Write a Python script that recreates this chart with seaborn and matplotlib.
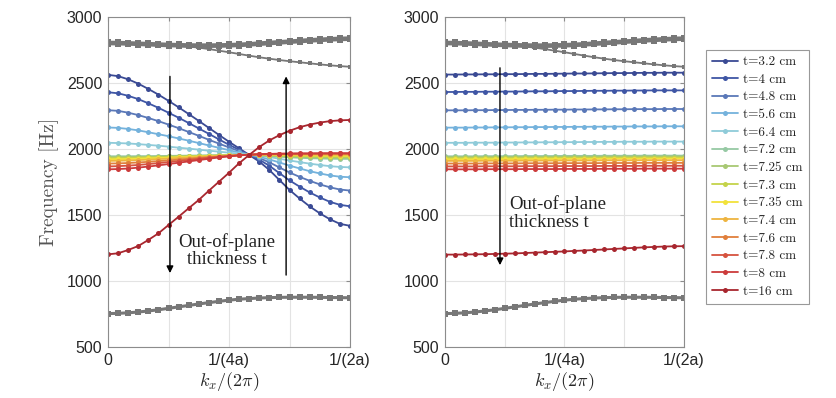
import numpy as np
import pandas as pd
import matplotlib
matplotlib.use('Agg')
import matplotlib.pyplot as plt
from matplotlib.lines import Line2D
import seaborn as sns

# wave number samples, 0 .. 1/(2a)
k = np.linspace(0, 0.5, 25)

labels = ['t=3.2 cm', 't=4 cm', 't=4.8 cm', 't=5.6 cm', 't=6.4 cm', 't=7.2 cm', 't=7.25 cm',
          't=7.3 cm', 't=7.35 cm', 't=7.4 cm', 't=7.6 cm', 't=7.8 cm', 't=8 cm', 't=16 cm']
colors = ['#3a4a94', '#3f56a5', '#5a78b8', '#74b2dc', '#8fcbd9', '#96c9a4', '#a8c873',
          '#c4d34a', '#f2e23a', '#eeb440', '#e07f3c', '#d6533f', '#cc3b3b', '#a8262e']

# left panel
left_t32 = [2562, 2552, 2528, 2495, 2455, 2412, 2365, 2316, 2265, 2213, 2160, 2107, 2055, 2005, 1955, 1905, 1841, 1765, 1690, 1625, 1565, 1513, 1468, 1433, 1418]
left_t40 = [2430, 2422, 2403, 2378, 2346, 2312, 2275, 2237, 2197, 2156, 2115, 2073, 2032, 1994, 1956, 1919, 1873, 1817, 1762, 1715, 1671, 1633, 1600, 1577, 1566]
left_t48 = [2294, 2289, 2275, 2257, 2235, 2211, 2185, 2158, 2129, 2100, 2070, 2041, 2012, 1984, 1956, 1931, 1899, 1860, 1822, 1789, 1759, 1732, 1710, 1693, 1685]
left_t56 = [2163, 2160, 2152, 2141, 2127, 2112, 2097, 2080, 2063, 2045, 2027, 2009, 1991, 1974, 1957, 1941, 1921, 1898, 1874, 1853, 1832, 1815, 1800, 1790, 1786]
left_t64 = [2047, 2045, 2042, 2037, 2031, 2025, 2018, 2010, 2003, 1995, 1987, 1980, 1972, 1965, 1958, 1949, 1939, 1926, 1913, 1901, 1889, 1879, 1870, 1864, 1861]
left_t72 = [1945, 1945, 1945, 1946, 1946, 1947, 1948, 1949, 1950, 1951, 1952, 1953, 1954, 1955, 1955, 1951, 1946, 1941, 1937, 1933, 1930, 1928, 1926, 1925, 1925]
left_t725 = [1938, 1938, 1939, 1940, 1941, 1942, 1944, 1945, 1947, 1948, 1950, 1951, 1953, 1954, 1955, 1953, 1950, 1946, 1943, 1940, 1938, 1936, 1935, 1934, 1934]
left_t73 = [1930, 1931, 1932, 1934, 1936, 1938, 1940, 1942, 1944, 1946, 1948, 1950, 1952, 1954, 1956, 1955, 1953, 1951, 1949, 1947, 1945, 1943, 1942, 1941, 1941]
left_t735 = [1922, 1923, 1924, 1926, 1929, 1931, 1934, 1937, 1940, 1943, 1946, 1949, 1951, 1954, 1957, 1956, 1955, 1954, 1953, 1952, 1951, 1950, 1949, 1949, 1948]
left_t74 = [1910, 1911, 1913, 1916, 1919, 1923, 1927, 1931, 1935, 1939, 1943, 1947, 1950, 1954, 1957, 1958, 1958, 1958, 1958, 1957, 1957, 1957, 1956, 1956, 1956]
left_t76 = [1890, 1891, 1894, 1898, 1903, 1908, 1914, 1920, 1926, 1932, 1938, 1943, 1948, 1953, 1957, 1959, 1960, 1961, 1962, 1962, 1963, 1963, 1963, 1963, 1963]
left_t78 = [1868, 1870, 1874, 1879, 1886, 1893, 1901, 1909, 1917, 1925, 1933, 1941, 1947, 1953, 1957, 1960, 1962, 1963, 1964, 1965, 1965, 1965, 1966, 1966, 1966]
left_t80 = [1846, 1848, 1852, 1859, 1867, 1876, 1886, 1896, 1906, 1916, 1926, 1936, 1944, 1951, 1957, 1961, 1963, 1965, 1966, 1967, 1967, 1968, 1968, 1968, 1968]
left_t16 = [1202, 1210, 1235, 1265, 1311, 1361, 1424, 1487, 1551, 1614, 1684, 1752, 1820, 1892, 1955, 2015, 2065, 2105, 2138, 2165, 2185, 2200, 2211, 2217, 2220]

# right panel
right_t32 = [2564, 2564, 2565, 2565, 2566, 2566, 2567, 2567, 2568, 2569, 2569, 2570, 2571, 2572, 2572, 2573, 2574, 2575, 2575, 2576, 2577, 2577, 2578, 2578, 2578]
right_t40 = [2432, 2432, 2433, 2433, 2434, 2434, 2435, 2435, 2436, 2437, 2437, 2438, 2439, 2439, 2440, 2441, 2441, 2442, 2442, 2443, 2443, 2444, 2444, 2444, 2444]
right_t48 = [2293, 2293, 2293, 2294, 2294, 2295, 2295, 2296, 2296, 2297, 2297, 2298, 2298, 2299, 2299, 2300, 2300, 2301, 2301, 2302, 2302, 2302, 2303, 2303, 2303]
right_t56 = [2162, 2162, 2162, 2163, 2163, 2164, 2164, 2165, 2165, 2166, 2166, 2167, 2167, 2168, 2168, 2169, 2169, 2170, 2170, 2171, 2171, 2171, 2172, 2172, 2172]
right_t64 = [2047, 2047, 2047, 2048, 2048, 2048, 2049, 2049, 2050, 2050, 2051, 2051, 2052, 2052, 2053, 2053, 2054, 2054, 2055, 2055, 2055, 2056, 2056, 2056, 2056]
right_t72 = [1945, 1945, 1945, 1945, 1946, 1946, 1946, 1946, 1947, 1947, 1947, 1947, 1948, 1948, 1948, 1948, 1949, 1949, 1949, 1949, 1950, 1950, 1950, 1950, 1950]
right_t725 = [1938, 1938, 1938, 1938, 1939, 1939, 1939, 1939, 1940, 1940, 1940, 1940, 1941, 1941, 1941, 1941, 1942, 1942, 1942, 1942, 1943, 1943, 1943, 1943, 1943]
right_t73 = [1930, 1930, 1930, 1930, 1931, 1931, 1931, 1931, 1932, 1932, 1932, 1932, 1933, 1933, 1933, 1933, 1934, 1934, 1934, 1934, 1935, 1935, 1935, 1935, 1935]
right_t735 = [1922, 1922, 1922, 1922, 1923, 1923, 1923, 1923, 1924, 1924, 1924, 1924, 1925, 1925, 1925, 1925, 1926, 1926, 1926, 1926, 1927, 1927, 1927, 1927, 1927]
right_t74 = [1910, 1910, 1910, 1910, 1911, 1911, 1911, 1911, 1912, 1912, 1912, 1912, 1913, 1913, 1913, 1913, 1914, 1914, 1914, 1914, 1915, 1915, 1915, 1915, 1915]
right_t76 = [1890, 1890, 1890, 1890, 1891, 1891, 1891, 1891, 1892, 1892, 1892, 1892, 1893, 1893, 1893, 1893, 1894, 1894, 1894, 1894, 1895, 1895, 1895, 1895, 1895]
right_t78 = [1868, 1868, 1868, 1868, 1869, 1869, 1869, 1869, 1870, 1870, 1870, 1870, 1871, 1871, 1871, 1871, 1872, 1872, 1872, 1872, 1873, 1873, 1873, 1873, 1873]
right_t80 = [1846, 1846, 1846, 1846, 1847, 1847, 1847, 1847, 1848, 1848, 1848, 1848, 1849, 1849, 1849, 1849, 1850, 1850, 1850, 1850, 1851, 1851, 1851, 1851, 1851]
right_t16 = [1200, 1200, 1201, 1202, 1203, 1205, 1207, 1209, 1212, 1215, 1218, 1221, 1224, 1228, 1231, 1235, 1239, 1243, 1247, 1251, 1255, 1258, 1261, 1263, 1264]

# in-plane modes (gray), same in both panels
gray_band_hi = [2809, 2808, 2806, 2803, 2800, 2797, 2794, 2792, 2790, 2789, 2789, 2790, 2792, 2795, 2799, 2804, 2809, 2814, 2819, 2824, 2829, 2833, 2837, 2840, 2842]
gray_band_lo = [2797, 2796, 2794, 2791, 2788, 2785, 2782, 2780, 2778, 2777, 2777, 2778, 2780, 2783, 2787, 2792, 2797, 2802, 2807, 2812, 2817, 2821, 2825, 2828, 2830]
gray_down = [2800, 2799, 2797, 2794, 2791, 2788, 2784, 2780, 2776, 2768, 2757, 2745, 2733, 2720, 2707, 2695, 2684, 2674, 2665, 2657, 2649, 2641, 2634, 2628, 2623]
gray_low = [753, 755, 759, 765, 773, 782, 793, 804, 815, 826, 836, 846, 855, 862, 867, 871, 874, 876, 877, 877, 877, 876, 875, 874, 873]

left_series = [left_t32, left_t40, left_t48, left_t56, left_t64, left_t72, left_t725,
               left_t73, left_t735, left_t74, left_t76, left_t78, left_t80, left_t16]
right_series = [right_t32, right_t40, right_t48, right_t56, right_t64, right_t72, right_t725,
                right_t73, right_t735, right_t74, right_t76, right_t78, right_t80, right_t16]


def long_df(series):
    return pd.DataFrame({'k': np.tile(k, len(series)),
                         'freq': np.concatenate([np.array(s, float) for s in series]),
                         't': np.repeat(labels, len(k))})


sns.set_style('white')
plt.rcParams['font.family'] = ['Liberation Sans', 'DejaVu Sans']
plt.rcParams['mathtext.fontset'] = 'cm'

GRAY = '#777777'
AXC = '#8c8c8c'

fig = plt.figure(figsize=(8.37, 3.98), dpi=100)
ax1 = fig.add_axes([108 / 837, 1 - 347 / 398, 242 / 837, 330 / 398])
ax2 = fig.add_axes([445 / 837, 1 - 347 / 398, 239 / 837, 330 / 398])

for ax, series in [(ax1, left_series), (ax2, right_series)]:
    # gray modes
    for vals in [gray_band_lo, gray_band_hi, gray_low]:
        sns.lineplot(x=k, y=vals, color=GRAY, marker='s', markersize=4.5, markeredgewidth=0,
                     linewidth=2.2, estimator=None, ax=ax)
    sns.lineplot(x=k, y=gray_down, color=GRAY, marker='s', markersize=3.5, markeredgewidth=0,
                 linewidth=1.3, estimator=None, ax=ax)

    sns.lineplot(data=long_df(series), x='k', y='freq', hue='t', hue_order=labels, palette=colors,
                 marker='o', markersize=3.6, markeredgewidth=0, linewidth=1.3,
                 estimator=None, legend=False, ax=ax)

    ax.set_xlim(0, 0.5)
    ax.set_ylim(500, 3000)
    ax.set_xticks([0, 0.125, 0.25, 0.375, 0.5])
    ax.set_xticklabels(['0', '', '1/(4a)', '', '1/(2a)'])
    ax.set_yticks([500, 1000, 1500, 2000, 2500, 3000])
    ax.grid(True, color='#e3e3e3', linewidth=0.8)
    ax.set_axisbelow(True)
    for sp in ax.spines.values():
        sp.set_visible(True)
        sp.set_color(AXC)
        sp.set_linewidth(0.8)
    ax.tick_params(direction='in', length=3, width=0.8, color=AXC, labelsize=11.5,
                   labelcolor='#262626', top=True, right=True, pad=4)
    ax.set_xlabel(r'$k_x/(2\pi)$', fontsize=13, color='#262626', labelpad=2)
    ax.set_ylabel('')

ax1.set_ylabel('Frequency [Hz]', family='cmr10', fontsize=14, color='#555555', labelpad=6)

# annotations
arrow = dict(arrowstyle='-|>', color='black', lw=1.0, mutation_scale=10, shrinkA=0, shrinkB=0)
ax1.annotate('', xy=(0.128, 1060), xytext=(0.128, 2550), arrowprops=arrow)
ax1.annotate('', xy=(0.368, 2550), xytext=(0.368, 1045), arrowprops=arrow)
ax1.text(0.246, 1230, 'Out-of-plane\nthickness t', ha='center', va='center',
         family='Liberation Serif', fontsize=13.5, color='#222222', linespacing=1.05)
ax2.annotate('', xy=(0.115, 1120), xytext=(0.115, 2615), arrowprops=arrow)
ax2.text(0.134, 1515, 'Out-of-plane\nthickness t', ha='left', va='center',
         family='Liberation Serif', fontsize=13.5, color='#222222', linespacing=1.05)

handles = [Line2D([], [], color=c, marker='o', markersize=3.6, markeredgewidth=0, linewidth=1.3)
           for c in colors]
leg = fig.legend(handles, labels, loc='upper left', bbox_to_anchor=(706 / 837, 1 - 50 / 398),
                 prop={'family': 'cmr10', 'size': 9.5}, frameon=True, fancybox=False,
                 edgecolor='#999999', framealpha=1, labelspacing=0.41, handlelength=2.0,
                 handletextpad=0.35, borderpad=0.45, borderaxespad=0)
leg.get_frame().set_linewidth(0.8)

fig.savefig('out.png', dpi=100)
